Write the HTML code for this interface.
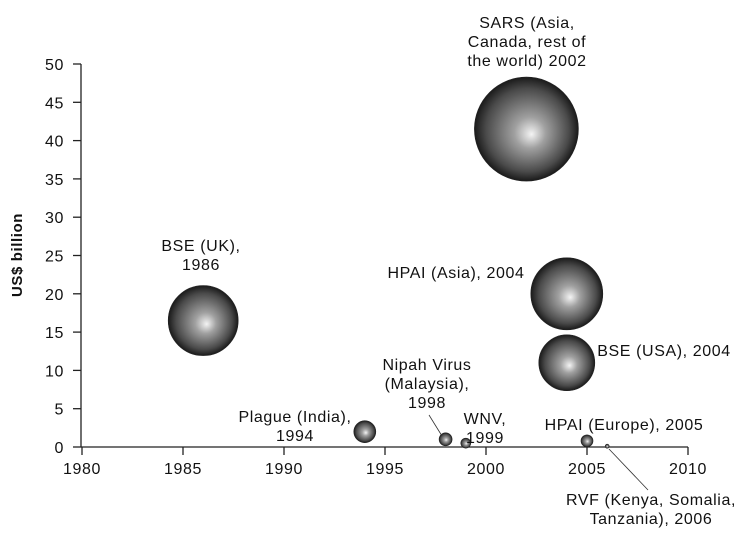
<!DOCTYPE html>
<html><head><meta charset="utf-8"><style>
body{margin:0;background:#fff}
svg text{font-family:"Liberation Sans",Arial,sans-serif;fill:#111;letter-spacing:0.6px}
</style></head><body>
<svg id="c" width="756" height="545" xmlns="http://www.w3.org/2000/svg">
<defs>
<radialGradient id="g" cx="50%" cy="50%" r="50%" fx="55%" fy="55%">
<stop offset="0" stop-color="#f4f4f4"/><stop offset="0.3" stop-color="#a0a0a0"/><stop offset="0.8" stop-color="#4a4a4a"/><stop offset="1" stop-color="#1a1a1a"/>
</radialGradient>
</defs>
<g id="axes"></g><g id="marks"></g><g id="labels"></g>
</svg>
<script>
const years=[2002,1986,2004,2004,1994,1998,1999,2005,2006];
const values=[41.5,16.5,20,11,2,1,0.5,0.8,0.1];
const sizes=[52,35,36,28,11,6.5,5,6,2];
const names=["sars","bse-uk","hpai-asia","bse-usa","plague-india","nipah","wnv","hpai-europe","rvf"];
const xTicks=[1980,1985,1990,1995,2000,2005,2010];
const yTicks=[0,5,10,15,20,25,30,35,40,45,50];
const NS="http://www.w3.org/2000/svg";
const X=v=>82+(v-1980)*20.2, Y=v=>447-v*7.66;
function mk(t,a,p){const e=document.createElementNS(NS,t);for(const k in a)e.setAttribute(k,a[k]);p.appendChild(e);return e;}
const ax=document.getElementById('axes');
let l=mk('line',{x1:81,y1:Y(0),x2:X(2010),y2:Y(0),stroke:'#222','stroke-width':1.3},ax);


l=mk('line',{x1:81,y1:Y(0),x2:81,y2:Y(50),stroke:'#222','stroke-width':1.3},ax);


xTicks.forEach(t=>{mk('line',{x1:X(t),y1:Y(0),x2:X(t),y2:Y(0)+8,stroke:'#222','stroke-width':1.3},ax);
const tx=mk('text',{x:X(t),y:Y(0)+27,'text-anchor':'middle','font-size':16},ax);tx.textContent=t;

});
yTicks.forEach(t=>{mk('line',{x1:73,y1:Y(t),x2:81,y2:Y(t),stroke:'#222','stroke-width':1.3},ax);
const tx=mk('text',{x:64,y:Y(t)+6,'text-anchor':'end','font-size':16},ax);tx.textContent=t;

});
const yt=mk('text',{x:0,y:0,transform:'translate(22,255) rotate(-90)','text-anchor':'middle','font-size':15,'font-weight':'bold'},ax);yt.textContent='US$ billion';


const mg=document.getElementById('marks');
years.forEach((yr,i)=>{const c=mk('circle',{cx:X(yr),cy:Y(values[i]),r:sizes[i],fill:'url(#g)',stroke:'#222','stroke-width':0.6},mg);

});
const lg=document.getElementById('labels');
mk('line',{x1:429,y1:415,x2:442,y2:436,stroke:'#333','stroke-width':0.8},lg);
mk('line',{x1:609,y1:449,x2:648,y2:490,stroke:'#333','stroke-width':0.8},lg);
const labs=[
[["SARS (Asia,","Canada, rest of","the world) 2002"],527,28],
[["BSE (UK),","1986"],201,251],
[["HPAI (Asia), 2004"],456,278],
[["BSE (USA), 2004"],664,356],
[["Plague (India),","1994"],295,422],
[["Nipah Virus","(Malaysia),","1998"],427,370],
[["WNV,","1999"],485,424],
[["HPAI (Europe), 2005"],624,430],
[["RVF (Kenya, Somalia,","Tanzania), 2006"],651,505]];
labs.forEach((L,i)=>{const t=mk('text',{x:L[1],y:L[2],'text-anchor':'middle','font-size':16},lg);


L[0].forEach((s,j)=>{const ts=mk('tspan',{x:L[1],dy:j?19:0},t);ts.textContent=s;});});
</script>
</body></html>
